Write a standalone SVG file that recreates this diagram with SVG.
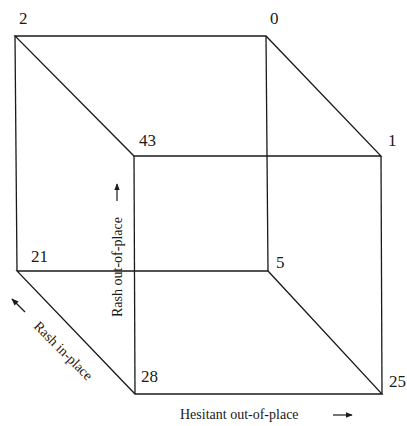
<svg xmlns="http://www.w3.org/2000/svg" width="407" height="426" viewBox="0 0 407 426">
<style>
.e{stroke:#1a1a1a;stroke-width:1.3;fill:none}
.n{font-family:"Liberation Serif",serif;font-size:17px;fill:#1a1a1a}
.a{font-family:"Liberation Serif",serif;font-size:14px;fill:#1a1a1a}
.ar{stroke:#1a1a1a;stroke-width:1.2;fill:none}
</style>
<defs>
<marker id="h" viewBox="0 0 10 10" refX="9" refY="5" markerWidth="6" markerHeight="6" orient="auto">
<path d="M0,1 L10,5 L0,9 Z" fill="#1a1a1a"/>
</marker>
</defs>
<rect width="407" height="426" fill="#fff"/>
<g id="connectors">
<path class="e" d="M15,36 L266,36 L381,156 L134,156 Z"/>
<path class="e" d="M17,271 L268,271 L382,394 L135,394 Z"/>
<path class="e" d="M15,36 L17,271"/>
<path class="e" d="M266,36 L268,271"/>
<path class="e" d="M134,156 L135,394"/>
<path class="e" d="M381,156 L382,394"/>
</g>
<g id="n2"><text class="n" x="19" y="24">2</text></g>
<g id="n0"><text class="n" x="270" y="24">0</text></g>
<g id="n43"><text class="n" x="139" y="146">43</text></g>
<g id="n1"><text class="n" x="388" y="146">1</text></g>
<g id="n21"><text class="n" x="31" y="262">21</text></g>
<g id="n5"><text class="n" x="276" y="268">5</text></g>
<g id="n28"><text class="n" x="141" y="382">28</text></g>
<g id="n25"><text class="n" x="389" y="387">25</text></g>
<g id="axes">
<text class="a" transform="translate(122,317) rotate(-90)">Rash out-of-place</text>
<line class="ar" x1="117" y1="201" x2="117" y2="184" marker-end="url(#h)"/>
<text class="a" text-anchor="middle" transform="translate(60,354) rotate(45)">Rash in-place</text>
<line class="ar" x1="25" y1="312" x2="12" y2="299" marker-end="url(#h)"/>
<text class="a" x="180" y="419">Hesitant out-of-place</text>
<line class="ar" x1="333" y1="415" x2="352" y2="415" marker-end="url(#h)"/>
</g>
</svg>
